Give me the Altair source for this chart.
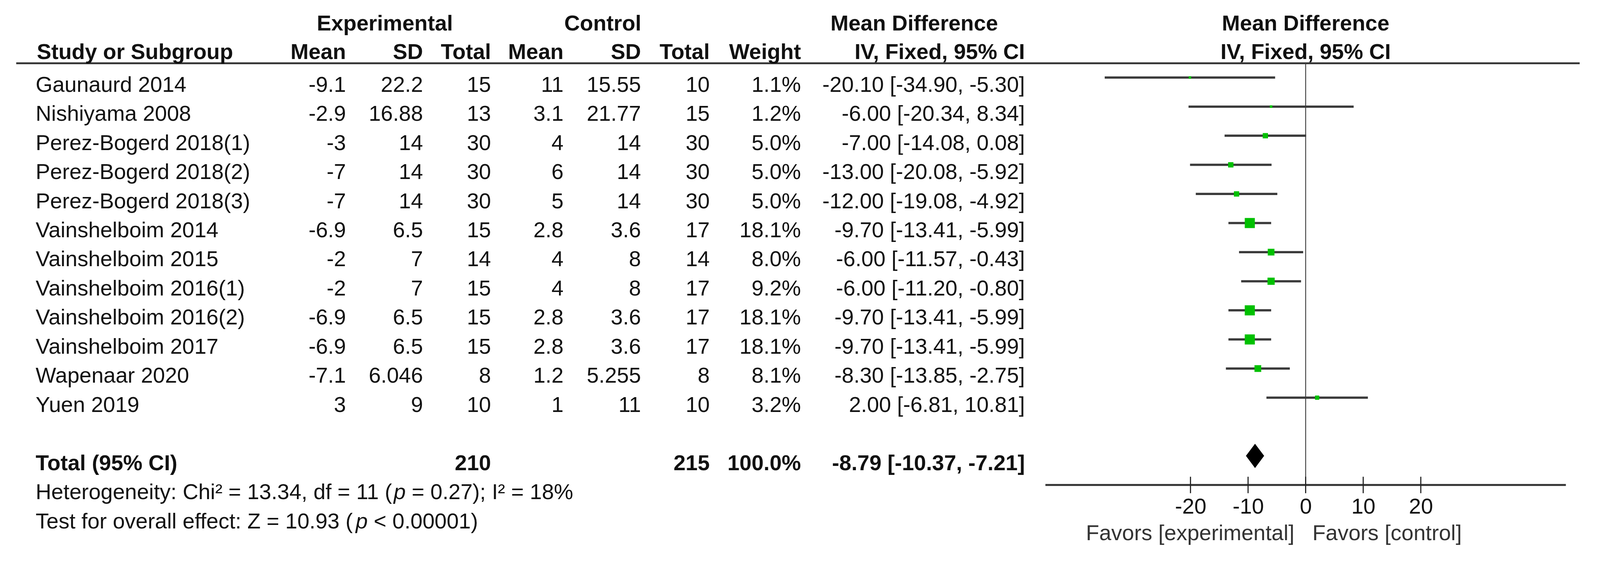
import altair as alt
import pandas as pd

# ---------------- data ----------------
studies = ["Gaunaurd 2014", "Nishiyama 2008", "Perez-Bogerd 2018(1)", "Perez-Bogerd 2018(2)",
           "Perez-Bogerd 2018(3)", "Vainshelboim 2014", "Vainshelboim 2015", "Vainshelboim 2016(1)",
           "Vainshelboim 2016(2)", "Vainshelboim 2017", "Wapenaar 2020", "Yuen 2019"]
exp_mean = [-9.1, -2.9, -3, -7, -7, -6.9, -2, -2, -6.9, -6.9, -7.1, 3]
exp_sd = [22.2, 16.88, 14, 14, 14, 6.5, 7, 7, 6.5, 6.5, 6.046, 9]
exp_n = [15, 13, 30, 30, 30, 15, 14, 15, 15, 15, 8, 10]
ctl_mean = [11, 3.1, 4, 6, 5, 2.8, 4, 4, 2.8, 2.8, 1.2, 1]
ctl_sd = [15.55, 21.77, 14, 14, 14, 3.6, 8, 8, 3.6, 3.6, 5.255, 11]
ctl_n = [10, 15, 30, 30, 30, 17, 14, 17, 17, 17, 8, 10]
weight = [1.1, 1.2, 5.0, 5.0, 5.0, 18.1, 8.0, 9.2, 18.1, 18.1, 8.1, 3.2]
md = [-20.10, -6.00, -7.00, -13.00, -12.00, -9.70, -6.00, -6.00, -9.70, -9.70, -8.30, 2.00]
ci_lo = [-34.90, -20.34, -14.08, -20.08, -19.08, -13.41, -11.57, -11.20, -13.41, -13.41, -13.85, -6.81]
ci_hi = [-5.30, 8.34, 0.08, -5.92, -4.92, -5.99, -0.43, -0.80, -5.99, -5.99, -2.75, 10.81]

tot_exp_n = 210
tot_ctl_n = 215
tot_weight = 100.0
tot_md, tot_lo, tot_hi = -8.79, -10.37, -7.21
het_chi2, het_df, het_p, het_i2 = 13.34, 11, 0.27, 18
z_value = 10.93
z_p = "< 0.00001"
axis_ticks = [-20, -10, 0, 10, 20]
axis_range = [-45.2, 45.2]

# ---------------- layout / style ----------------
FONT = "Liberation Sans"
FS = 58
W, H = 4263, 1420
ROW_PX = 77.8
ROW0_PX = 167
Y_TOP = -ROW0_PX / ROW_PX
Y_BOT = Y_TOP + H / ROW_PX
PX_PER_UNIT = 15.4
XMIN = -3484 / PX_PER_UNIT
XMAX = XMIN + W / PX_PER_UNIT
HDR1, HDR2, LINE_Y = -2.1, -1.12, -0.488
ROW_TOTAL, ROW_HET, ROW_TEST, ROW_AXIS = 13, 14, 15, 14
AXIS_PX = ROW0_PX + ROW_AXIS * ROW_PX

yscale = alt.Scale(domain=[Y_TOP, Y_BOT], reverse=True, nice=False, zero=False)
xscale_t = alt.Scale(domain=[0, W], nice=False, zero=False)
xscale_f = alt.Scale(domain=[XMIN, XMAX], nice=False, zero=False)

COL = {"study": 87, "study_hdr": 90, "e_mean": 917, "e_sd": 1123, "e_n": 1305,
       "c_mean": 1499, "c_sd": 1706, "c_n": 1890, "weight": 2134, "ci": 2733,
       "g_exp": 1021, "g_ctl": 1604, "g_md": 2437}

ARIAL_W = {' ': .278, '.': .278, ',': .278, ':': .278, '(': .333, ')': .333, '=': .584, '<': .584,
           '²': .333, 'H': .722, 'C': .722, 'T': .611, 'Z': .611, 'I': .278, 'e': .556, 't': .278,
           'r': .333, 'o': .556, 'g': .556, 'n': .556, 'i': .222, 'y': .5, 'h': .556, 'd': .556,
           'f': .278, 's': .5, 'v': .5, 'a': .556, 'l': .222, 'c': .5, '%': .889}


def tw(s):
    return sum(ARIAL_W.get(ch, .556) for ch in s) * FS


def g(v):
    return f"{v:g}"


def ci_text(m, lo, hi):
    return f"{m:.2f} [{lo:.2f}, {hi:.2f}]"


cells = []


def add(text, pos, row, kind):
    cells.append({"text": text, "pos": pos, "row": row, "kind": kind})


add("Experimental", COL["g_exp"], HDR1, "center_bold")
add("Control", COL["g_ctl"], HDR1, "center_bold")
add("Mean Difference", COL["g_md"], HDR1, "center_bold")
add("Study or Subgroup", COL["study_hdr"], HDR2, "left_bold")
for key, lab in [("e_mean", "Mean"), ("e_sd", "SD"), ("e_n", "Total"), ("c_mean", "Mean"),
                 ("c_sd", "SD"), ("c_n", "Total"), ("weight", "Weight"), ("ci", "IV, Fixed, 95% CI")]:
    add(lab, COL[key], HDR2, "right_bold")

for i, s in enumerate(studies):
    add(s, COL["study"], i, "left")
    add(g(exp_mean[i]), COL["e_mean"], i, "right")
    add(g(exp_sd[i]), COL["e_sd"], i, "right")
    add(str(exp_n[i]), COL["e_n"], i, "right")
    add(g(ctl_mean[i]), COL["c_mean"], i, "right")
    add(g(ctl_sd[i]), COL["c_sd"], i, "right")
    add(str(ctl_n[i]), COL["c_n"], i, "right")
    add(f"{weight[i]:.1f}%", COL["weight"], i, "right")
    add(ci_text(md[i], ci_lo[i], ci_hi[i]), COL["ci"], i, "right")

add("Total (95% CI)", COL["study"], ROW_TOTAL, "left_bold")
add(str(tot_exp_n), COL["e_n"], ROW_TOTAL, "right_bold")
add(str(tot_ctl_n), COL["c_n"], ROW_TOTAL, "right_bold")
add(f"{tot_weight:.1f}%", COL["weight"], ROW_TOTAL, "right_bold")
add(ci_text(tot_md, tot_lo, tot_hi), COL["ci"], ROW_TOTAL, "right_bold")

pre1 = f"Heterogeneity: Chi² = {het_chi2:.2f}, df = {het_df} ("
suf1 = f"= {het_p:.2f}); I² = {het_i2}%"
pre2 = f"Test for overall effect: Z = {z_value:.2f} ("
suf2 = f"{z_p})"
for pre, suf, row in [(pre1, suf1, ROW_HET), (pre2, suf2, ROW_TEST)]:
    x0 = COL["study"]
    add(pre, x0, row, "left")
    add("p", x0 + tw(pre), row, "left_italic")
    add(suf, x0 + tw(pre) + 0.556 * FS + 0.278 * FS, row, "left")

cells_df = pd.DataFrame(cells)


def text_layer(kind, align, weight_="normal", style="normal"):
    return alt.Chart(cells_df).transform_filter(alt.datum.kind == kind).mark_text(
        align=align, baseline="alphabetic", dy=38, font=FONT, fontSize=FS,
        fontWeight=weight_, fontStyle=style, color="#111111"
    ).encode(
        x=alt.X("pos:Q", scale=xscale_t, axis=None),
        y=alt.Y("row:Q", scale=yscale, axis=None),
        text="text:N",
    )


header_line = alt.Chart(pd.DataFrame({"r": [LINE_Y]})).mark_rule(
    strokeWidth=5, color="#333333").encode(
    x=alt.value(35), x2=alt.value(4217), y=alt.Y("r:Q", scale=yscale, axis=None))

table = alt.layer(
    header_line,
    text_layer("left", "left"),
    text_layer("left_italic", "left", style="italic"),
    text_layer("left_bold", "left", weight_="bold"),
    text_layer("right", "right"),
    text_layer("right_bold", "right", weight_="bold"),
    text_layer("center_bold", "center", weight_="bold"),
)

# ---------------- forest plot ----------------
xaxis = alt.Axis(values=axis_ticks, orient="bottom", offset=-(H - AXIS_PX), domain=False,
                 ticks=False, tickSize=0, grid=False, labelFont=FONT, labelFontSize=FS,
                 labelColor="#111111", labelPadding=76, labelBaseline="alphabetic",
                 labelExpr="'' + datum.value", title=None, labelFlush=False, labelOverlap=False)


def X(f):
    return alt.X(f, type="quantitative", scale=xscale_f, axis=xaxis)


def Y(f):
    return alt.Y(f, type="quantitative", scale=yscale, axis=None)


forest_df = pd.DataFrame({"row": list(range(len(studies))), "md": md, "lo": ci_lo,
                          "hi": ci_hi, "weight": weight})

zero_line = alt.Chart(pd.DataFrame({"x": [0], "y": [LINE_Y], "y2": [ROW_AXIS]})).mark_rule(
    strokeWidth=2.5, color="#444444").encode(x=X("x"), y=Y("y"), y2="y2")

ci_rules = alt.Chart(forest_df).mark_rule(strokeWidth=6, color="#3a3a3a").encode(
    x=X("lo"), x2="hi", y=Y("row"))

squares = alt.Chart(forest_df).mark_square(color="#00c000", opacity=1).encode(
    x=X("md"), y=Y("row"),
    size=alt.Size("weight:Q", scale=alt.Scale(domain=[0, max(weight)], range=[0, 729]), legend=None))

DH = 32.5 / ROW_PX
diamond_df = pd.DataFrame({"x": [tot_lo, tot_md, tot_hi],
                           "y": [ROW_TOTAL, ROW_TOTAL - DH, ROW_TOTAL],
                           "y2": [ROW_TOTAL, ROW_TOTAL + DH, ROW_TOTAL]})
diamond = alt.Chart(diamond_df).mark_area(color="black", orient="vertical").encode(
    x=X("x"), y=Y("y"), y2="y2")

axis_line = alt.Chart(pd.DataFrame({"x": [axis_range[0]], "x2": [axis_range[1]], "y": [ROW_AXIS]})).mark_rule(
    strokeWidth=5, color="#333333").encode(x=X("x"), x2="x2", y=Y("y"))

TH = 22 / ROW_PX
ticks_df = pd.DataFrame({"t": axis_ticks, "y": [ROW_AXIS - TH] * len(axis_ticks),
                         "y2": [ROW_AXIS + TH] * len(axis_ticks)})
tick_rules = alt.Chart(ticks_df).mark_rule(strokeWidth=3, color="#222222").encode(
    x=X("t"), y=Y("y"), y2="y2")

hdr_r = alt.Chart(pd.DataFrame({"x": [0, 0], "row": [HDR1, HDR2],
                                "text": ["Mean Difference", "IV, Fixed, 95% CI"]})).mark_text(
    align="center", baseline="alphabetic", dy=38, font=FONT, fontSize=FS, fontWeight="bold",
    color="#111111").encode(x=X("x"), y=Y("row"), text="text:N")

FAV_ROW = (1445 - 38 - 208) / ROW_PX
fav_l = alt.Chart(pd.DataFrame({"x": [0], "row": [FAV_ROW], "text": ["Favors [experimental]"]})).mark_text(
    align="right", baseline="alphabetic", dy=38, dx=-30, font=FONT, fontSize=FS, color="#333333"
).encode(x=X("x"), y=Y("row"), text="text:N")
fav_r = alt.Chart(pd.DataFrame({"x": [0], "row": [FAV_ROW], "text": ["Favors [control]"]})).mark_text(
    align="left", baseline="alphabetic", dy=38, dx=18, font=FONT, fontSize=FS, color="#333333"
).encode(x=X("x"), y=Y("row"), text="text:N")

forest = alt.layer(zero_line, ci_rules, squares, diamond, axis_line, tick_rules, hdr_r, fav_l, fav_r)

chart = alt.layer(table, forest).resolve_scale(x="independent").properties(
    width=W, height=H, padding=0, background="white",
    autosize=alt.AutoSizeParams(type="none"),
).configure_view(stroke=None)

chart.save("out.html", embed_options={"renderer": "svg", "actions": False})
